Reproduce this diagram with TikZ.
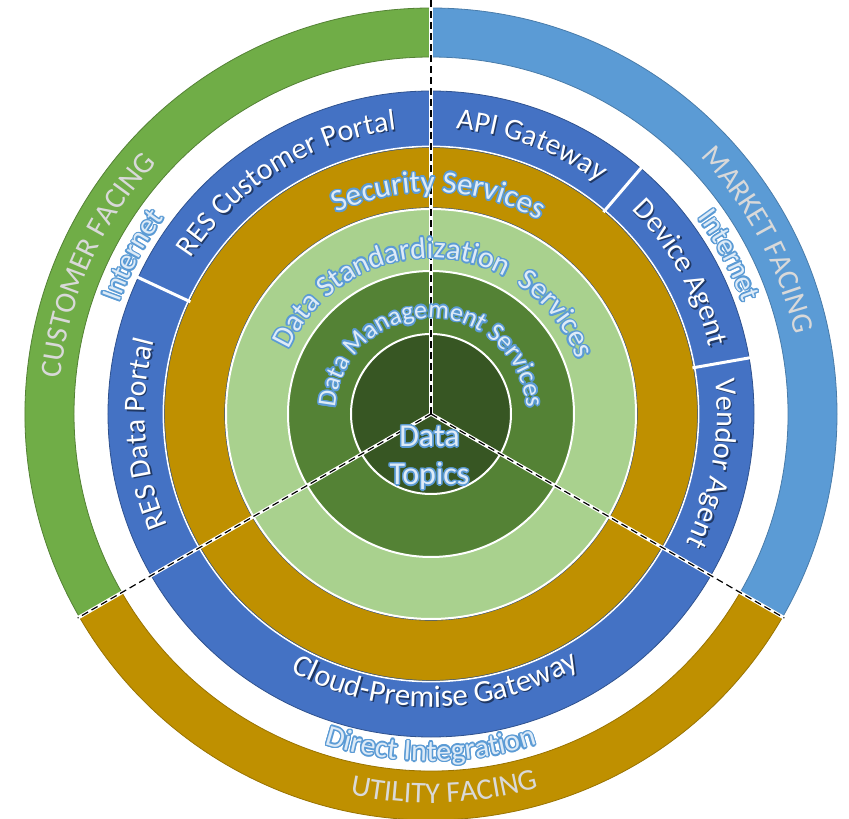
\documentclass[tikz,border=0pt]{standalone}
\usepackage{fontspec}
\setmainfont{Carlito}
\usetikzlibrary{decorations.text,calc}
\definecolor{topicG}{HTML}{375623}
\definecolor{mgmtG}{HTML}{548235}
\definecolor{stdG}{HTML}{A9D18E}
\definecolor{goldC}{HTML}{BF9000}
\definecolor{ringB}{HTML}{4472C4}
\definecolor{outG}{HTML}{70AD47}
\definecolor{outB}{HTML}{5B9BD5}
\definecolor{edgeB}{HTML}{2F528F}
\definecolor{glowB}{HTML}{5B9BD5}
\definecolor{paleB}{HTML}{DEEBF7}
\definecolor{facingC}{HTML}{D9D9D9}
\definecolor{shadowB}{HTML}{203864}

\newcommand\annsector[6]{%
  \filldraw[fill=#1,draw=#2,line width=0.8] (#3:#5) arc[start angle=#3,end angle=#4,radius=#5]
    -- (#4:#6) arc[start angle=#4,end angle=#3,radius=#6] -- cycle;}

% #1 radius, #2 start angle, #3 end angle, #4 size, #5 colour, #6 text
\newcommand\curvtext[6]{%
  \path[decorate,decoration={text along path,text align=center,
    text={|\fontsize{#4}{#4}\selectfont\color{#5}|#6}}]
    (#2:#1) arc[start angle=#2,end angle=#3,radius=#1];}

% glowing text: #1 r, #2 a1, #3 a2, #4 size, #5 fill, #6 glow, #7 text
\newcommand\glowtext[7]{%
  \foreach \ga in {0,30,...,330}{%
    \begin{scope}[shift={(\ga:1.5)}]\curvtext{#1}{#2}{#3}{#4}{#6}{#7}\end{scope}}%
  \curvtext{#1}{#2}{#3}{#4}{#5}{#7}}

% shadowed white text
\newcommand\shadtext[5]{%
  \begin{scope}[shift={(1.4,-1.4)}]\curvtext{#1}{#2}{#3}{#4}{shadowB}{#5}\end{scope}%
  \curvtext{#1}{#2}{#3}{#4}{white}{#5}}

\tikzset{
  divider/.style={white,line width=3},
  sepunder/.style={white,line width=3.5},
  sepdash/.style={black,line width=1.2,dash pattern=on 7pt off 4pt},
  ringedge/.style={white,line width=2},
  corelabel/.style={font=\fontsize{32}{38}\selectfont,align=center}
}

\begin{document}
\begin{tikzpicture}[x=1pt,y=1pt]
\useasboundingbox (-431,-405) rectangle (418,414);
\fill[white] (-431,-405) rectangle (418,414);

% outer segments
\annsector{outG}{outG!75!black}{90}{210}{357}{406}
\annsector{goldC}{goldC!80!black}{210}{330}{357}{406}
\annsector{outB}{outB!80!black}{-30}{90}{357}{406}

% blue ring
\filldraw[fill=ringB,draw=edgeB,line width=0.8] (0,0) circle[radius=323];
% gold ring
\fill[goldC] (0,0) circle[radius=267];
\draw[white,line width=1.6] (0,0) circle[radius=267.6];
\draw[edgeB,line width=0.5] (0,0) circle[radius=266.4];
% light green ring
\fill[stdG] (0,0) circle[radius=205];
\draw[edgeB,line width=0.6] (0,0) circle[radius=206.3];
\draw[ringedge] (0,0) circle[radius=205];
% mid green ring
\fill[mgmtG] (0,0) circle[radius=143];
\draw[ringedge] (0,0) circle[radius=143];
% core
\fill[topicG] (0,0) circle[radius=80];
\draw[ringedge] (0,0) circle[radius=80];

% dividers of the blue ring
\foreach \a in {155,49.5,10}{\draw[divider] (\a:265.5) -- (\a:324);}

% dashed sector lines
\coordinate (c) at (0,0);
\coordinate (e1) at (90:414);
\coordinate (e2) at (210:408);
\coordinate (e3) at (330:408);
\foreach \e in {e1,e2,e3}{\draw[sepunder] (c) -- (\e);}
\foreach \e in {e1,e2,e3}{\draw[sepdash] (c) -- (\e);}

% outer facing labels
\curvtext{372}{256}{56}{30}{facingC}{CUSTOMER FACING}
\curvtext{372}{128}{-72}{30}{facingC}{MARKET FACING}
\curvtext{389}{172}{372}{30}{facingC}{UTILITY FACING}

% connection labels
\glowtext{331}{252}{52}{29}{paleB}{glowB}{Internet}
\glowtext{331}{128}{-72}{29}{paleB}{glowB}{Internet}
\glowtext{347}{170}{370}{30}{paleB}{glowB}{Direct Integration}

% blue ring labels
\shadtext{286}{222}{22}{30}{RES Customer Portal}
\shadtext{286}{284}{84}{30}{RES Data Portal}
\shadtext{286}{169.5}{-30.5}{30}{API Gateway}
\shadtext{286}{129.5}{-70.5}{30}{Device Agent}
\shadtext{286}{90}{-110}{30}{Vendor Agent}
\shadtext{293}{171}{371}{31}{Cloud-Premise Gateway}

% inner service labels
\glowtext{222}{188}{-12}{31}{paleB}{glowB}{Security Services}
\glowtext{156}{188}{-12}{30}{paleB}{glowB}{Data Standardization{\ }{\ }Services}
\glowtext{96}{195}{-15}{26}{paleB}{glowB}{Data Management Services}

% core label
\foreach \ga [count=\i] in {0,30,...,330}{%
  \node[corelabel,text=glowB] (topicsglow\i) at ($(-1.5,-44)+(\ga:1.5)$) {Data\\Topics};}
\node[corelabel,text=paleB] (topics) at (-1.5,-44) {Data\\Topics};
\end{tikzpicture}
\end{document}
